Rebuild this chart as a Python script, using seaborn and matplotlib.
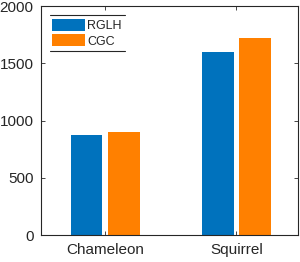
import matplotlib
matplotlib.use('Agg')
import matplotlib.pyplot as plt
import seaborn as sns
import pandas as pd

categories = ['Chameleon', 'Squirrel']
methods = ['RGLH', 'CGC']
rglh = [870, 1600]
cgc = [900, 1720]
yticks = [0, 500, 1000, 1500, 2000]

df = pd.DataFrame({
    'dataset': categories * 2,
    'method': [methods[0]] * 2 + [methods[1]] * 2,
    'value': rglh + cgc,
})

sns.set_theme(style='white')
plt.rcParams['font.family'] = ['Liberation Sans', 'DejaVu Sans']

fig = plt.figure(figsize=(3.0, 2.62), dpi=100)
ax = fig.add_axes([0.137, 0.103, 0.856, 0.874])

sns.barplot(data=df, x='dataset', y='value', hue='method', order=categories,
            hue_order=methods, palette=['#0072BD', '#FF8000'],
            width=0.57, gap=0.15, saturation=1, linewidth=0, ax=ax, legend=True)

ax.set_xlim(-0.49, 1.47)
ax.set_ylim(0, 2000)
ax.set_yticks(yticks)
ax.set_xlabel('')
ax.set_ylabel('')
for s in ax.spines.values():
    s.set_visible(True)
    s.set_color('#262626')
    s.set_linewidth(0.8)
ax.tick_params(direction='in', length=3, width=0.6, top=True, right=True,
               bottom=True, left=True, labelsize=11, colors='#262626',
               pad=5.5)

leg = ax.legend(loc='upper left', bbox_to_anchor=(0.043, 0.945), frameon=False,
                fontsize=9, handlelength=2.6, handleheight=1.1,
                handletextpad=0.2, labelspacing=0.2, borderpad=0.0,
                borderaxespad=0)
for t in leg.get_texts():
    t.set_color('#262626')

# top and bottom rules of the legend box
for yy in (0.961, 0.803):
    ax.plot([0.035, 0.327], [yy, yy], transform=ax.transAxes, color='#262626',
            lw=0.8, clip_on=False)

fig.savefig('out.png', dpi=100)
